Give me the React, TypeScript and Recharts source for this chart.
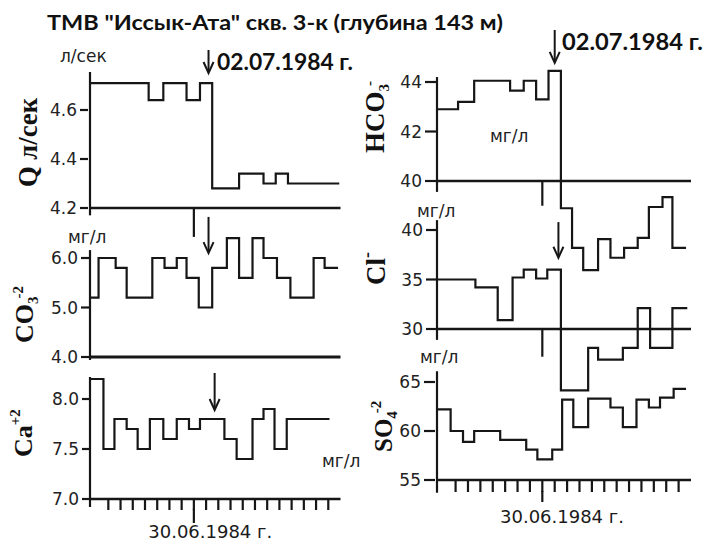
import React from "react";
import { ComposedChart, Line, XAxis, YAxis, ReferenceLine } from "recharts";

// time axis in tick steps; tick 7 is the long one (30.06.1984)
const dayTicks = [0, 1, 2, 3, 4, 5, 6, 7, 8, 9, 10, 11, 12, 13, 14, 15, 16, 17, 18];
const MAJOR_TICK = 7;
const X_DOMAIN: [number, number] = [-1.5, 19];

// left column: Q, CO3, Ca
const qTime = [-1.5, 3.3, 4.5, 6.4, 7.5, 8.5, 10.7, 12.7, 13.7, 14.7, 18.9];
const qValues = [4.71, 4.64, 4.71, 4.64, 4.71, 4.28, 4.34, 4.3, 4.34, 4.3, 4.3];
const qTicks = [4.2, 4.4, 4.6];

const co3Time = [-1.5, -0.8, 0.6, 1.5, 3.6, 4.6, 5.6, 6.4, 7.4, 8.5, 9.7, 10.7, 11.8, 12.7, 13.8, 14.9, 16.8, 17.7, 18.8];
const co3Values = [5.2, 6.0, 5.8, 5.2, 6.0, 5.8, 6.0, 5.6, 5.0, 5.8, 6.4, 5.6, 6.4, 6.0, 5.6, 5.2, 6.0, 5.8, 5.8];
const co3Ticks = [4, 5, 6];

const caTime = [-1.5, -0.4, 0.5, 1.5, 2.4, 3.4, 4.5, 5.6, 6.6, 7.5, 9.5, 10.5, 11.8, 12.7, 13.6, 14.6, 18.1];
const caValues = [8.2, 7.5, 7.8, 7.7, 7.5, 7.8, 7.6, 7.8, 7.7, 7.8, 7.6, 7.4, 7.8, 7.9, 7.5, 7.8, 7.8];
const caTicks = [7.0, 7.5, 8.0];

// right column: HCO3, Cl, SO4
const hco3Time = [-1.5, 0.2, 1.5, 4.4, 5.5, 6.5, 7.5, 8.5, 9.4, 10.3, 11.5, 12.5, 13.6, 14.7, 15.6, 16.7, 17.5, 18.6];
const hco3Values = [42.9, 43.2, 44.05, 43.65, 44.05, 43.3, 44.45, 38.9, 37.3, 36.4, 37.65, 36.9, 37.3, 37.7, 38.95, 39.35, 37.3, 37.3];
const hco3Ticks = [40, 42, 44];

const clTime = [-1.5, 1.6, 3.4, 4.6, 5.5, 6.5, 7.4, 8.5, 10.7, 11.5, 13.5, 14.7, 15.7, 17.5, 18.7];
const clValues = [35.0, 34.2, 30.9, 35.2, 36.0, 35.1, 36.0, 23.8, 28.1, 26.9, 28.1, 32.1, 28.1, 32.1, 32.1];
const clTicks = [30, 35, 40];

const so4Time = [-1.5, -0.4, 0.6, 1.5, 3.6, 5.7, 6.6, 7.8, 8.6, 9.5, 10.7, 12.5, 13.5, 14.6, 15.6, 16.5, 17.6, 18.6];
const so4Values = [62.2, 60.0, 58.9, 60.0, 59.1, 58.1, 57.1, 58.1, 63.2, 60.4, 63.3, 62.4, 60.4, 63.2, 62.4, 63.4, 64.3, 64.3];
const so4Ticks = [55, 60, 65];

const INK = "#161616";
const TICK_FONT = { fontSize: 17, fontFamily: "'DejaVu Sans', sans-serif", fill: "#222" };
const SERIF = "'Liberation Serif', 'Times New Roman', serif";
const BOLD_SANS = "Lato, 'Open Sans', sans-serif";

type Pt = { t: number; v: number };
const toSeries = (time: number[], values: number[]): Pt[] => time.map((t, i) => ({ t, v: values[i] }));

// maps a panel's scale onto the whole plot height of its column
const yDomain = (base: number, basePx: number, pxPerUnit: number, top: number, bottom: number): [number, number] => [
  base - (bottom - basePx) / pxPerUnit,
  base + (basePx - top) / pxPerUnit,
];

const LEFT_TOP = 40;
const LEFT_BOTTOM = 499;
const RIGHT_TOP = 25;
const RIGHT_BOTTOM = 480;

const qDomain = yDomain(4.2, 208, 245, LEFT_TOP, LEFT_BOTTOM);
const co3Domain = yDomain(4.0, 357, 49.5, LEFT_TOP, LEFT_BOTTOM);
const caDomain = yDomain(7.0, 499, 100, LEFT_TOP, LEFT_BOTTOM);
const hco3Domain = yDomain(40, 181, 24.75, RIGHT_TOP, RIGHT_BOTTOM);
const clDomain = yDomain(30, 329, 9.9, RIGHT_TOP, RIGHT_BOTTOM);
const so4Domain = yDomain(55, 480, 9.8, RIGHT_TOP, RIGHT_BOTTOM);

const ArrowShape = (props: any) => {
  const { x1, y1, x2, y2 } = props;
  return (
    <g>
      <line x1={x1} y1={y1} x2={x2} y2={y2 - 2} stroke={INK} strokeWidth={2} />
      <path d={`M${x2 - 5},${y2 - 11} L${x2},${y2} L${x2 + 5},${y2 - 11}`} fill="none" stroke={INK} strokeWidth={2} />
    </g>
  );
};

const majorTick = (extra: number) => (p: any) =>
  p.payload && p.payload.value === MAJOR_TICK ? (
    <line x1={p.x} x2={p.x} y1={p.y - 1} y2={p.y + extra} stroke={INK} strokeWidth={2.2} />
  ) : (
    <g />
  );

const seg = (x: number, y1: number, y2: number) => [
  { x, y: y1 },
  { x, y: y2 },
];

const lineProps = {
  xAxisId: "t",
  dataKey: "v",
  type: "stepAfter" as const,
  dot: false,
  stroke: INK,
  strokeWidth: 2.2,
  isAnimationActive: false,
};

// width 1 so the axis is still drawn; the three axes sit within 2px of each other
const yAxisProps = (tickSize: number) => ({
  type: "number" as const,
  width: 1,
  axisLine: false,
  allowDataOverflow: true,
  tickSize,
  tickMargin: 3,
  tick: TICK_FONT,
  tickLine: { stroke: INK, strokeWidth: 2.2 },
});

function LeftColumn() {
  return (
    <ComposedChart width={704} height={542} margin={{ top: LEFT_TOP, right: 363.5, bottom: 0, left: 87 }}>
      <XAxis
        xAxisId="t"
        dataKey="t"
        type="number"
        domain={X_DOMAIN}
        ticks={dayTicks}
        interval={0}
        allowDataOverflow
        height={43}
        tickSize={11}
        tickMargin={0}
        axisLine={{ stroke: INK, strokeWidth: 2.5 }}
        tickLine={{ stroke: INK, strokeWidth: 2.2 }}
        tick={majorTick(13)}
        label={{ value: "30.06.1984 г.", position: "insideBottom", offset: 4, dx: -5, fontSize: 18, fontFamily: "'DejaVu Sans', sans-serif", fill: "#1a1a1a" }}
      />
      <YAxis yAxisId="q" {...yAxisProps(8)} domain={qDomain} ticks={qTicks} tickFormatter={(v: number) => v.toFixed(1)} />
      <YAxis yAxisId="co3" {...yAxisProps(8)} domain={co3Domain} ticks={co3Ticks} tickFormatter={(v: number) => v.toFixed(1)} />
      <YAxis yAxisId="ca" {...yAxisProps(8)} domain={caDomain} ticks={caTicks} tickFormatter={(v: number) => v.toFixed(1)} />

      <ReferenceLine xAxisId="t" yAxisId="q" y={4.2} stroke={INK} strokeWidth={2.5} />
      <ReferenceLine xAxisId="t" yAxisId="co3" y={4.0} stroke={INK} strokeWidth={3} />
      <ReferenceLine xAxisId="t" yAxisId="q" segment={seg(-1.5, 4.17, 4.755)} ifOverflow="visible" stroke={INK} strokeWidth={2.2} />
      <ReferenceLine xAxisId="t" yAxisId="co3" segment={seg(-1.5, 3.94, 6.16)} ifOverflow="visible" stroke={INK} strokeWidth={2.2} />
      <ReferenceLine xAxisId="t" yAxisId="ca" segment={seg(-1.5, 6.92, 8.22)} ifOverflow="visible" stroke={INK} strokeWidth={2.2} />
      <ReferenceLine xAxisId="t" yAxisId="q" segment={seg(MAJOR_TICK, 4.2, 4.082)} ifOverflow="visible" stroke={INK} strokeWidth={2.2} />

      <ReferenceLine xAxisId="t" yAxisId="q" segment={seg(8.2, 4.845, 4.751)} ifOverflow="visible" shape={ArrowShape} />
      <ReferenceLine xAxisId="t" yAxisId="co3" segment={seg(8.2, 6.83, 6.1)} ifOverflow="visible" shape={ArrowShape} />
      <ReferenceLine xAxisId="t" yAxisId="ca" segment={seg(8.7, 8.26, 7.89)} ifOverflow="visible" shape={ArrowShape} />

      <Line {...lineProps} yAxisId="q" data={toSeries(qTime, qValues)} />
      <Line {...lineProps} yAxisId="co3" data={toSeries(co3Time, co3Values)} />
      <Line {...lineProps} yAxisId="ca" data={toSeries(caTime, caValues)} />
    </ComposedChart>
  );
}

function RightColumn() {
  return (
    <ComposedChart width={704} height={542} margin={{ top: RIGHT_TOP, right: 13, bottom: 19, left: 434 }}>
      <XAxis
        xAxisId="t"
        dataKey="t"
        type="number"
        domain={X_DOMAIN}
        ticks={dayTicks}
        interval={0}
        allowDataOverflow
        height={43}
        tickSize={12}
        tickMargin={0}
        axisLine={{ stroke: INK, strokeWidth: 2.5 }}
        tickLine={{ stroke: INK, strokeWidth: 2.2 }}
        tick={majorTick(10)}
        label={{ value: "30.06.1984 г.", position: "insideBottom", offset: 0, dx: -2, fontSize: 18, fontFamily: "'DejaVu Sans', sans-serif", fill: "#1a1a1a" }}
      />
      <YAxis yAxisId="hco3" {...yAxisProps(11)} domain={hco3Domain} ticks={hco3Ticks} />
      <YAxis yAxisId="cl" {...yAxisProps(11)} domain={clDomain} ticks={clTicks} />
      <YAxis yAxisId="so4" {...yAxisProps(11)} domain={so4Domain} ticks={so4Ticks} />

      <ReferenceLine xAxisId="t" yAxisId="hco3" y={40} stroke={INK} strokeWidth={2.5} />
      <ReferenceLine xAxisId="t" yAxisId="cl" y={30} stroke={INK} strokeWidth={2.5} />
      <ReferenceLine xAxisId="t" yAxisId="hco3" segment={seg(-1.5, 39.56, 44.2)} ifOverflow="visible" stroke={INK} strokeWidth={2.2} />
      <ReferenceLine xAxisId="t" yAxisId="cl" segment={seg(-1.5, 28.9, 41.0)} ifOverflow="visible" stroke={INK} strokeWidth={2.2} />
      <ReferenceLine xAxisId="t" yAxisId="so4" segment={seg(-1.5, 53.7, 66.1)} ifOverflow="visible" stroke={INK} strokeWidth={2.2} />
      <ReferenceLine xAxisId="t" yAxisId="hco3" segment={seg(MAJOR_TICK, 40.0, 39.0)} ifOverflow="visible" stroke={INK} strokeWidth={2.2} />
      <ReferenceLine xAxisId="t" yAxisId="cl" segment={seg(MAJOR_TICK, 30.1, 27.2)} ifOverflow="visible" stroke={INK} strokeWidth={2.2} />

      <ReferenceLine xAxisId="t" yAxisId="hco3" segment={seg(8.0, 46.1, 44.77)} ifOverflow="visible" shape={ArrowShape} />
      <ReferenceLine xAxisId="t" yAxisId="cl" segment={seg(8.3, 40.8, 37.2)} ifOverflow="visible" shape={ArrowShape} />

      <Line {...lineProps} yAxisId="hco3" data={toSeries(hco3Time, hco3Values)} />
      <Line {...lineProps} yAxisId="cl" data={toSeries(clTime, clValues)} />
      <Line {...lineProps} yAxisId="so4" data={toSeries(so4Time, so4Values)} />
    </ComposedChart>
  );
}

const unitStyle = { fontSize: 17, fontFamily: "'DejaVu Sans', sans-serif", fill: "#222" };

function Annotations() {
  return (
    <svg width={704} height={542} style={{ position: "absolute", left: 0, top: 0, pointerEvents: "none" }}>
      <text x={47} y={30} fontFamily={BOLD_SANS} fontWeight={700} fontSize={20} fill="#111" textLength={456} lengthAdjust="spacingAndGlyphs">
        {'ТМВ "Иссык-Ата" скв. 3-к (глубина 143 м)'}
      </text>
      <text x={217} y={70} fontFamily={BOLD_SANS} fontWeight={700} fontSize={23} fill="#111" textLength={136} lengthAdjust="spacingAndGlyphs">
        02.07.1984 г.
      </text>
      <text x={562} y={50} fontFamily={BOLD_SANS} fontWeight={700} fontSize={23} fill="#111" textLength={141} lengthAdjust="spacingAndGlyphs">
        02.07.1984 г.
      </text>

      <text x={60} y={62} {...unitStyle}>л/сек</text>
      <text x={68} y={243} {...unitStyle}>мг/л</text>
      <text x={322} y={467} {...unitStyle}>мг/л</text>
      <text x={490} y={142} {...unitStyle}>мг/л</text>
      <text x={417} y={217} {...unitStyle}>мг/л</text>
      <text x={420} y={363} {...unitStyle}>мг/л</text>

      <g fontFamily={SERIF} fontWeight={700} fill="#111">
        <text transform="translate(37,187) rotate(-90)" fontSize={27} textLength={89} lengthAdjust="spacingAndGlyphs">
          Q л/сек
        </text>
        <text transform="translate(33,343) rotate(-90)" fontSize={26}>
          CO<tspan fontSize={15} dy={5}>3</tspan>
          <tspan fontSize={15} dx={-2} dy={-15}>-2</tspan>
        </text>
        <text transform="translate(32,457) rotate(-90)" fontSize={26}>
          Ca<tspan fontSize={15} dy={-12}>+2</tspan>
        </text>
        <text transform="translate(384,153) rotate(-90)" fontSize={27}>
          HCO<tspan fontSize={15} dy={5}>3</tspan>
          <tspan fontSize={15} dx={-2} dy={-15}>-</tspan>
        </text>
        <text transform="translate(385,285) rotate(-90)" fontSize={27}>
          Cl<tspan fontSize={18} dy={-12}>-</tspan>
        </text>
        <text transform="translate(392,452) rotate(-90)" fontSize={25}>
          SO<tspan fontSize={15} dy={5}>4</tspan>
          <tspan fontSize={15} dx={-2} dy={-16}>-2</tspan>
        </text>
      </g>
    </svg>
  );
}

export default function App() {
  return (
    <div style={{ position: "absolute", left: 0, top: 0, width: 704, height: 542, background: "#fff", overflow: "hidden" }}>
      <div style={{ position: "absolute", left: 0, top: 0 }}>
        <LeftColumn />
      </div>
      <div style={{ position: "absolute", left: 0, top: 0 }}>
        <RightColumn />
      </div>
      <Annotations />
    </div>
  );
}
